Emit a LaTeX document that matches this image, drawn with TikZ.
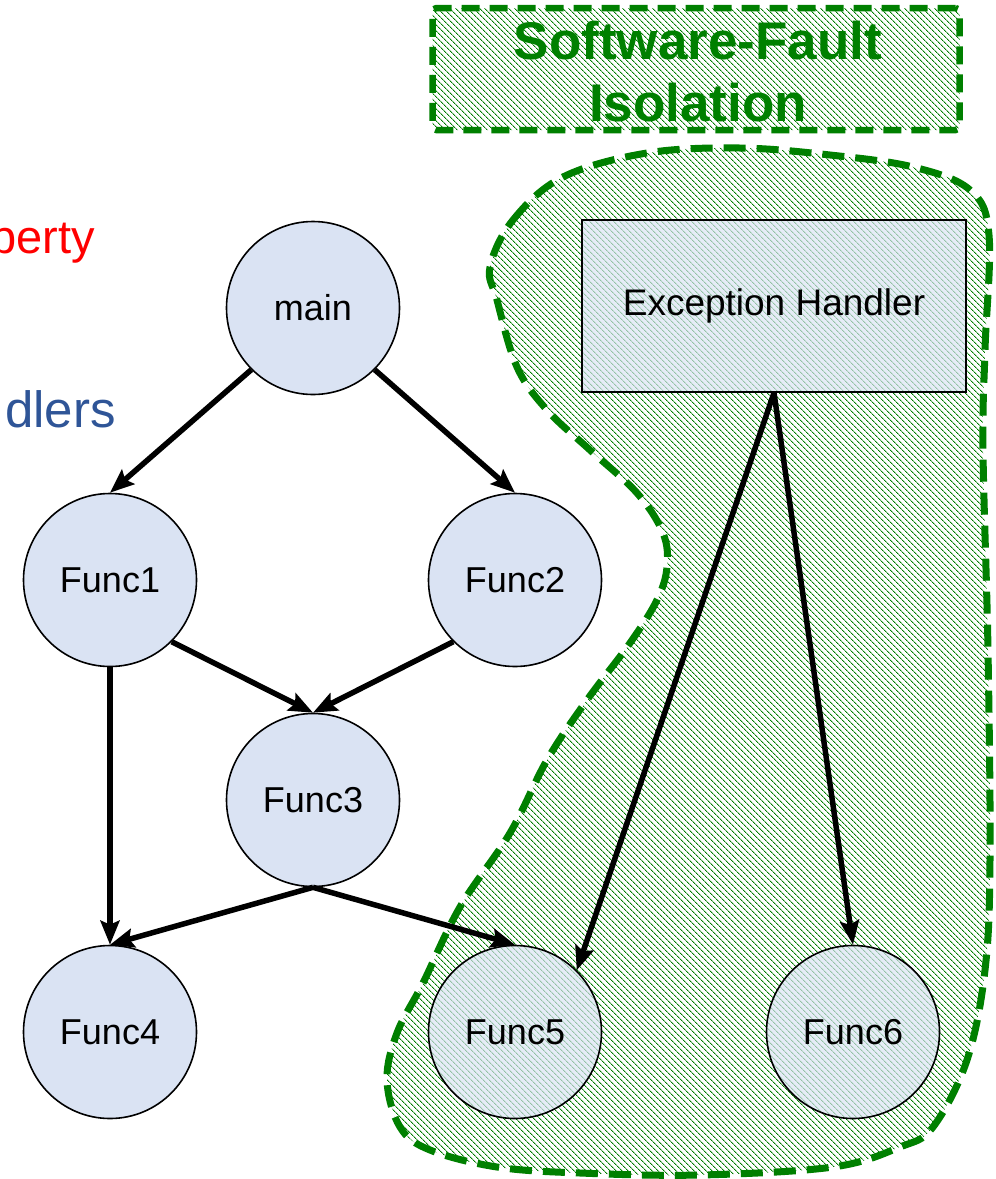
\documentclass[tikz,border=0pt]{standalone}
\usepackage{fontspec}
\setmainfont{Liberation Sans}
\usetikzlibrary{patterns.meta,arrows.meta}
\definecolor{nodefill}{RGB}{218,227,243}
\definecolor{sfigreen}{RGB}{0,128,0}
\definecolor{hatchgreen}{RGB}{0,125,0}
\definecolor{lblblue}{RGB}{47,85,151}
\tikzset{
  fn/.style={circle, draw=black, line width=1.6pt, fill=nodefill, minimum size=173pt, inner sep=0pt, font=\fontsize{36}{43}\selectfont},
  hatch/.style={pattern={Lines[angle=-45,distance=4pt,line width=0.9pt]}, pattern color=hatchgreen},
  sfiline/.style={draw=sfigreen, line width=7pt, dash pattern=on 22pt off 11pt},
  call/.style={line width=5.5pt, -{Stealth[length=24pt,width=19pt,inset=4pt]}},
  inside/.style={fill opacity=0.68, text opacity=1},
}
\begin{document}
\begin{tikzpicture}[x=1pt,y=-1pt]
\useasboundingbox (0,0) rectangle (996,1179);
% isolation region
\draw[sfiline, hatch] plot[smooth cycle, tension=0.6] coordinates {
  (490,267) (513,220) (563,177) (647,153) (740,148) (830,155) (913,167) (970,190)
  (989,235) (985,350) (983,450) (988,650) (990,860) (985,970) (967,1060) (933,1127)
  (900,1147) (833,1167) (700,1175) (580,1173) (497,1167) (430,1150) (400,1127)
  (387,1080) (397,1033) (423,983) (460,907) (510,833) (547,760) (587,700) (630,643)
  (657,600) (667,567) (663,533) (637,493) (590,450) (547,410) (517,367) (497,300)};
% title
\node[hatch, draw=sfigreen, line width=6.5pt, dash pattern=on 18pt off 10pt, rounded corners=4pt,
      minimum width=527pt, minimum height=122pt, inner sep=0pt] (title) at (696,69) {};
\node[inner sep=0pt, align=center, text=sfigreen, font=\bfseries\fontsize{53}{62}\selectfont]
      (titletext) at (698,72) {Software-Fault\\Isolation};
% side labels
\node[anchor=base east, inner sep=0pt, text=red, font=\fontsize{47}{56}\selectfont] (lbla) at (95,253) {perty};
\node[anchor=base east, inner sep=0pt, text=lblblue, font=\fontsize{51}{60}\selectfont] (lblb) at (116,427) {dlers};
% nodes
\node[fn] (main) at (313,308) {main};
\node[fn] (f1) at (110,580) {Func1};
\node[fn] (f2) at (515,580) {Func2};
\node[fn] (f3) at (313,800) {Func3};
\node[fn] (f4) at (110,1032) {Func4};
\node[fn, inside] (f5) at (515,1032) {Func5};
\node[fn, inside] (f6) at (853,1032) {Func6};
\node[draw=black, line width=1.6pt, fill=nodefill, inside, minimum width=384pt, minimum height=172pt,
      inner sep=0pt, font=\fontsize{37}{44}\selectfont] (eh) at (774,306) {Exception Handler};
% calls
\draw[call] (main.225) -- (f1.north);
\draw[call] (main.315) -- (f2.north);
\draw[call] (f1.315) -- (f3.north);
\draw[call] (f2.225) -- (f3.north);
\draw[call] (f1.south) -- (f4.north);
\draw[call] (f3.south) -- (f4.north);
\draw[call] (f3.south) -- (f5.north);
\draw[call] (eh.south) -- (f5.45);
\draw[call] (eh.south) -- (f6.north);
\end{tikzpicture}
\end{document}
